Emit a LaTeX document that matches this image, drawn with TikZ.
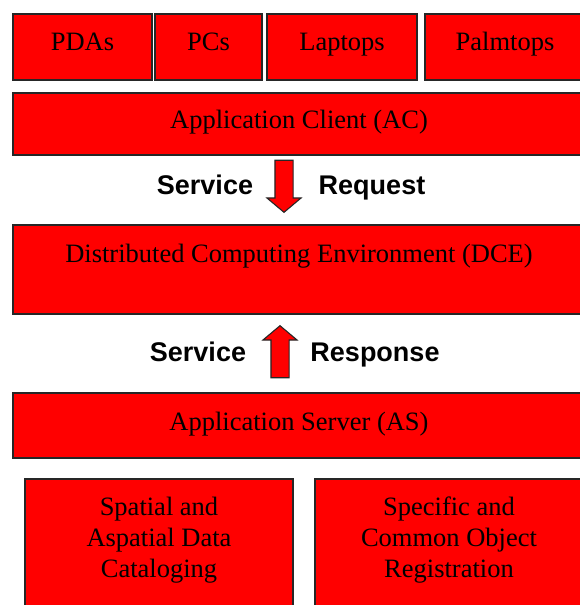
\documentclass[tikz,border=0pt]{standalone}
\usepackage{fontspec}
\setmainfont{Liberation Serif}
\newfontfamily\labelfont{Liberation Sans}
\usetikzlibrary{shapes.arrows}
\tikzset{every node/.style={align=center}, font=\fontsize{26.5}{31}\selectfont,
  block/.style={draw=black!85, line width=1.3pt, fill=red, inner sep=0pt, text height=19pt, text depth=#1},
  block/.default=13pt,
  blockarrow/.style={single arrow, draw=black!85, line width=1.1pt, fill=red,
    minimum height=52pt, inner xsep=0pt, inner ysep=8.5pt,
    single arrow head extend=8pt, single arrow tip angle=100, rotate=#1},
  flowlabel/.style={font=\labelfont\bfseries\fontsize{27}{31}\selectfont, text height=19pt, text depth=6pt}}

\begin{document}
\begin{tikzpicture}[x=1pt, y=-1pt]
            \useasboundingbox (0,0) rectangle (580,605);
            % devices
            \node [block, minimum width=139pt, minimum height=66pt] (pda) at (82.5,47) {PDAs};
            \node [block, minimum width=107pt, minimum height=66pt] (pc) at (208.5,47) {PCs};
            \node [block, minimum width=150pt, minimum height=66pt] (laptop) at (342,47) {Laptops};
            \node [block, minimum width=160pt, minimum height=66pt] (palm) at (505,47) {Palmtops};
            \node [block=10pt, minimum width=572pt, minimum height=62pt] (ac) at (299,124) {Application Client (AC)};

            \node [blockarrow=-90] (req) at (284,182.5) {};
            \node [flowlabel] (reqa) at (205,188) {Service};
            \node [flowlabel] (reqb) at (372,188) {Request};

            \node [block=34pt, minimum width=572pt, minimum height=89pt] (dce) at (299,269.5) {Distributed Computing Environment (DCE)};

            \node [blockarrow=90] (resp) at (280,355.5) {};
            \node [flowlabel] (respa) at (198,355) {Service};
            \node [flowlabel] (respb) at (375,355) {Response};

            \node [block=10pt, minimum width=572pt, minimum height=65pt] (as) at (299,425.5) {Application Server (AS)};
            % services
            \node [block=35pt, text height=81pt, minimum width=268pt, minimum height=150pt] (cat) at (159,554) {Spatial and\\Aspatial Data\\Cataloging};
            \node [block=35pt, text height=81pt, minimum width=268pt, minimum height=150pt] (reg) at (449,554) {Specific and\\Common Object\\Registration};
        \end{tikzpicture}
\end{document}
